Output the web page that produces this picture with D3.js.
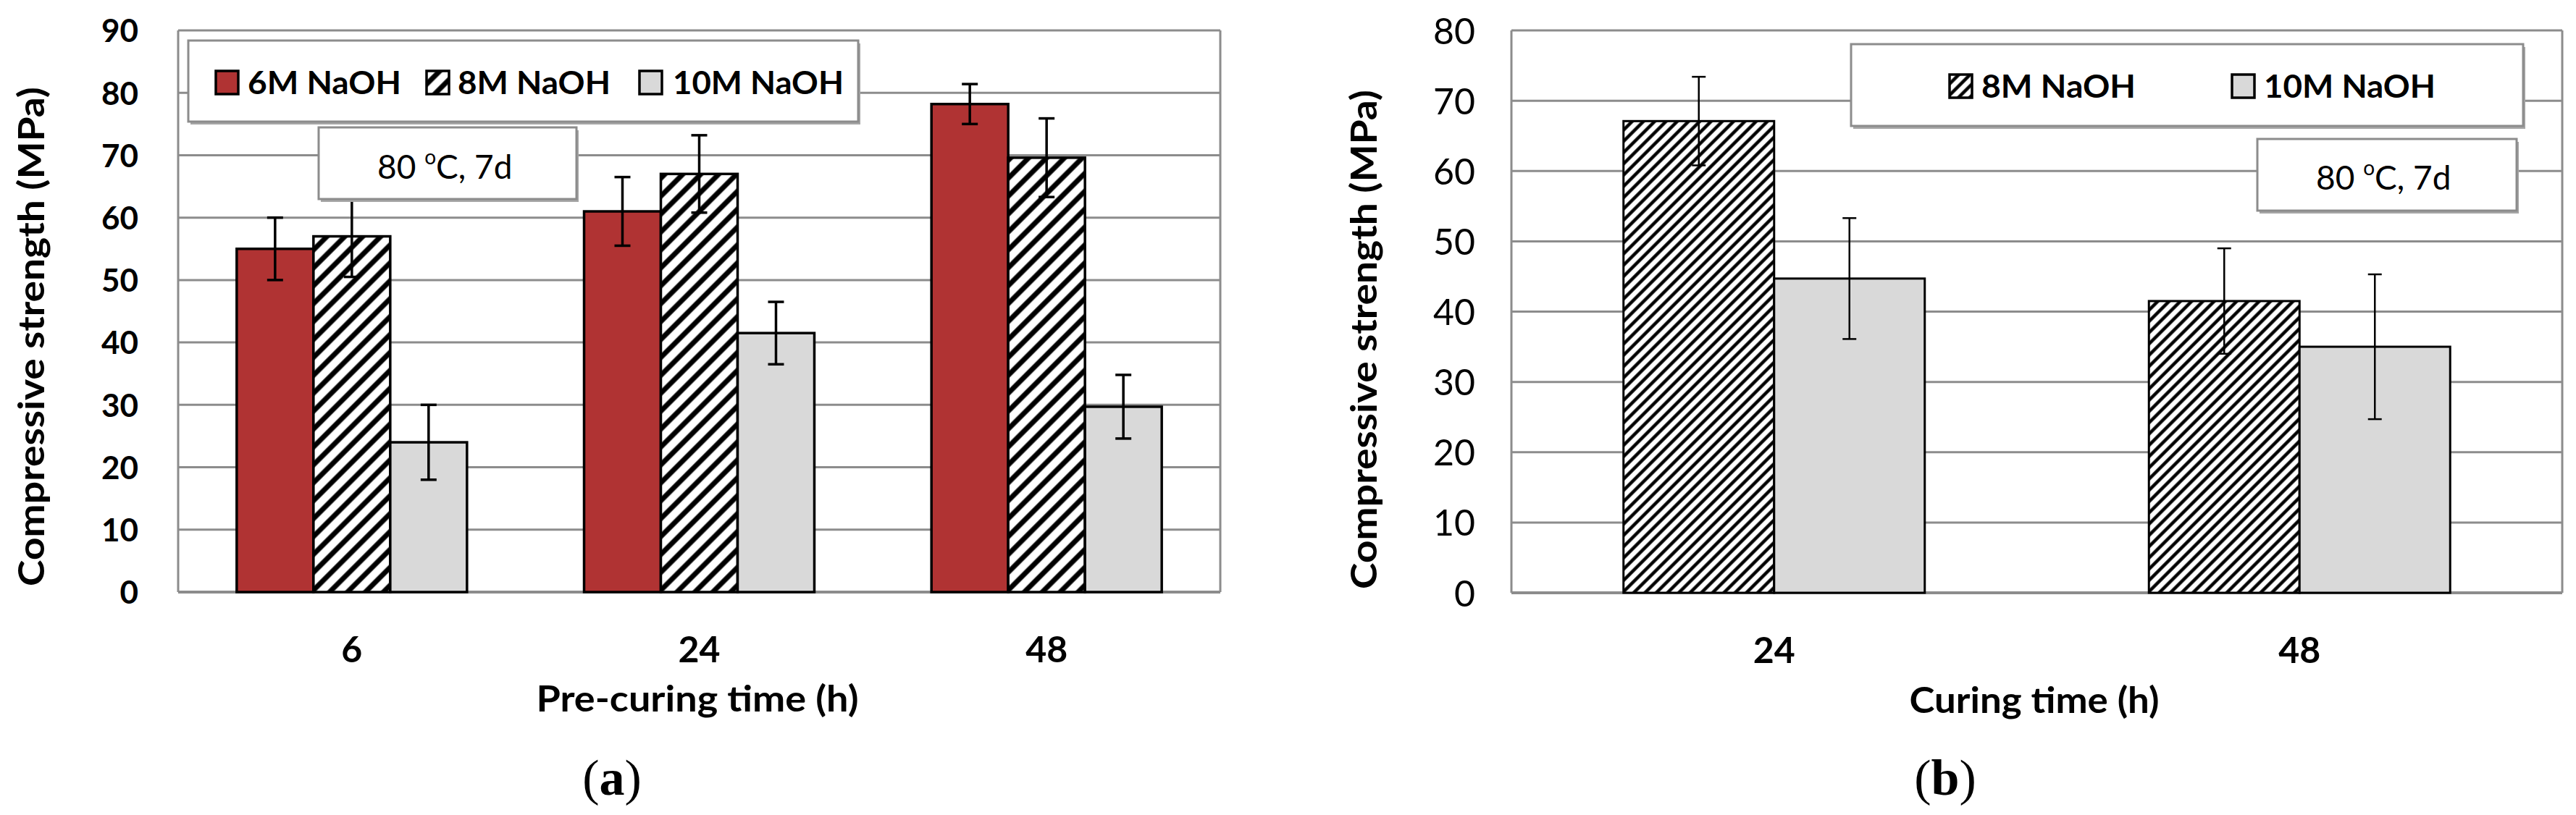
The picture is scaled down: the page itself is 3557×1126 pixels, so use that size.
<!DOCTYPE html>
<html>
<head>
<meta charset="utf-8">
<script src="https://cdn.jsdelivr.net/npm/d3@7"></script>
<style>
body { margin: 0; background: #fff; }
svg text { font-family: Lato, "Open Sans", sans-serif; fill: #000; }
</style>
</head>
<body>
<svg id="chart" width="3557" height="1126"></svg>
<script>
// ---- data, panel (a): pre-curing time
var preCuring = ["6", "24", "48"];
var naoh6 = [55, 61, 78.2];
var naoh6Err = [5, 5.5, 3.2];
var naoh8 = [57, 67, 69.6];
var naoh8Err = [6.5, 6.2, 6.3];
var naoh10 = [24, 41.5, 29.7];
var naoh10Err = [6, 5, 5.1];
var ticksA = [0, 10, 20, 30, 40, 50, 60, 70, 80, 90];

// ---- data, panel (b): curing time
var curing = ["24", "48"];
var curing8 = [67.1, 41.5];
var curing8Err = [6.3, 7.5];
var curing10 = [44.7, 35];
var curing10Err = [8.6, 10.3];
var ticksB = [0, 10, 20, 30, 40, 50, 60, 70, 80];

var svg = d3.select("#chart");
var defs = svg.append("defs");

function hatch(id, gap, w) {
	var p = defs.append("pattern")
		.attr("id", id)
		.attr("patternUnits", "userSpaceOnUse")
		.attr("width", gap)
		.attr("height", gap)
		.attr("patternTransform", "rotate(45)");
	p.append("rect").attr("width", gap).attr("height", gap).attr("fill", "#fff");
	p.append("line")
		.attr("x1", gap / 2).attr("x2", gap / 2)
		.attr("y1", 0).attr("y2", gap)
		.attr("stroke", "#000")
		.attr("stroke-width", w);
}
hatch("hatchA", 17.5, 7);
hatch("hatchB", 11, 4.5);

var RED = "#b03333", GRAY = "#d9d9d9", GRID = "#8c8c8c";

function panel(c) {
	var g = svg.append("g");
	var y = d3.scaleLinear().domain([0, c.yMax]).range([c.bottom, c.top]);
	var x0 = d3.scaleBand().domain(c.cats).range([c.left, c.right]);
	var x1 = d3.scaleBand()
		.domain(c.series.map(function (s) { return s.name; }))
		.range([0, x0.bandwidth()])
		.paddingOuter(c.outer);

	// gridlines
	g.append("g").selectAll("line")
		.data(c.ticks)
		.join("line")
		.attr("x1", c.left).attr("x2", c.right)
		.attr("y1", function (d) { return y(d); })
		.attr("y2", function (d) { return y(d); })
		.attr("stroke", GRID)
		.attr("stroke-width", function (d) { return d === 0 ? 4 : 3; });

	// frame sides
	g.append("g").selectAll("line")
		.data([c.left, c.right])
		.join("line")
		.attr("x1", function (d) { return d; })
		.attr("x2", function (d) { return d; })
		.attr("y1", y(c.yMax)).attr("y2", y(0))
		.attr("stroke", GRID)
		.attr("stroke-width", 3);

	// y tick labels
	var ya = g.append("g")
		.attr("transform", "translate(" + c.left + ",0)")
		.call(d3.axisLeft(y).tickValues(c.ticks).tickSize(0).tickPadding(c.yPad));
	ya.select(".domain").remove();
	ya.selectAll("text")
		.attr("font-size", c.yFont)
		.attr("font-weight", c.yWeight)
		.attr("font-family", "Lato, sans-serif")
		.attr("dy", "0.36em");

	// x tick labels
	var xa = g.append("g")
		.attr("transform", "translate(0," + c.bottom + ")")
		.call(d3.axisBottom(x0).tickSize(0).tickPadding(0));
	xa.select(".domain").remove();
	xa.selectAll("text")
		.attr("font-size", 50)
		.attr("font-weight", 700)
		.attr("font-family", "Lato, sans-serif")
		.attr("y", c.xBase - c.bottom)
		.attr("dy", 0);

	// bars
	var groups = g.append("g").selectAll("g")
		.data(c.cats)
		.join("g")
		.attr("transform", function (d) { return "translate(" + x0(d) + ",0)"; });

	var cells = function (d, i) {
		return c.series.map(function (s) {
			return { s: s, v: s.values[i], e: s.errors[i] };
		});
	};

	groups.selectAll("rect")
		.data(cells)
		.join("rect")
		.attr("x", function (d) { return x1(d.s.name); })
		.attr("y", function (d) { return y(d.v); })
		.attr("width", x1.bandwidth())
		.attr("height", function (d) { return y(0) - y(d.v); })
		.attr("fill", function (d) { return d.s.fill; })
		.attr("stroke", "#000")
		.attr("stroke-width", c.barStroke);

	// error bars
	var err = groups.selectAll("g.err")
		.data(cells)
		.join("g")
		.attr("class", "err")
		.attr("stroke", "#000")
		.attr("stroke-width", c.errStroke);
	err.append("line")
		.attr("x1", function (d) { return x1(d.s.name) + x1.bandwidth() / 2; })
		.attr("x2", function (d) { return x1(d.s.name) + x1.bandwidth() / 2; })
		.attr("y1", function (d) { return y(d.v + d.e); })
		.attr("y2", function (d) { return y(d.v - d.e); });
	[1, -1].forEach(function (sgn) {
		err.append("line")
			.attr("x1", function (d) { return x1(d.s.name) + x1.bandwidth() / 2 - c.cap / 2; })
			.attr("x2", function (d) { return x1(d.s.name) + x1.bandwidth() / 2 + c.cap / 2; })
			.attr("y1", function (d) { return y(d.v + sgn * d.e); })
			.attr("y2", function (d) { return y(d.v + sgn * d.e); });
	});
	return g;
}

function box(b) {
	svg.append("rect")
		.attr("x", b.x + 3).attr("y", b.y + 4)
		.attr("width", b.w).attr("height", b.h)
		.attr("fill", "#a6a6a6");
	svg.append("rect")
		.attr("x", b.x).attr("y", b.y)
		.attr("width", b.w).attr("height", b.h)
		.attr("fill", "#fff")
		.attr("stroke", GRID)
		.attr("stroke-width", 3);
}

function legend(b, items, base, weight) {
	box(b);
	items.forEach(function (it) {
		svg.append("rect")
			.attr("x", it.sx).attr("y", base - 32)
			.attr("width", 31).attr("height", 32)
			.attr("fill", it.fill)
			.attr("stroke", "#000")
			.attr("stroke-width", 3.5);
		svg.append("text")
			.attr("x", it.tx).attr("y", base)
			.attr("font-size", 44)
			.attr("font-weight", weight)
			.attr("textLength", it.tw)
			.attr("lengthAdjust", "spacingAndGlyphs")
			.text(it.name);
	});
}

function note(b, tx, base) {
	box(b);
	var t = svg.append("text")
		.attr("x", tx).attr("y", base)
		.attr("font-size", 46);
	t.append("tspan").text("80 ");
	t.append("tspan").attr("font-size", 28).attr("dy", -20).text("o");
	t.append("tspan").attr("dy", 20).text("C, 7d");
}

function title(x, y, text, len, rot) {
	svg.append("text")
		.attr("transform", "translate(" + x + "," + y + ")" + (rot ? " rotate(-90)" : ""))
		.attr("text-anchor", "middle")
		.attr("font-size", 50)
		.attr("font-weight", 700)
		.attr("textLength", len)
		.attr("lengthAdjust", "spacingAndGlyphs")
		.text(text);
}

function letter(x, y, ch) {
	var t = svg.append("text")
		.attr("x", x).attr("y", y)
		.attr("text-anchor", "middle")
		.attr("font-family", "'Liberation Serif', serif")
		.attr("font-size", 70)
		.style("font-family", "'Liberation Serif', serif");
	t.append("tspan").text("(");
	t.append("tspan").attr("font-weight", 700).text(ch);
	t.append("tspan").text(")");
}

// ---- panel (a)
panel({
	left: 246, right: 1685, top: 42, bottom: 818,
	yMax: 90, ticks: ticksA, cats: preCuring, outer: 0.7627,
	yPad: 55, yFont: 44, yWeight: 700, xBase: 915,
	barStroke: 3.5, errStroke: 3.5, cap: 22,
	series: [
		{ name: "6M NaOH", values: naoh6, errors: naoh6Err, fill: RED },
		{ name: "8M NaOH", values: naoh8, errors: naoh8Err, fill: "url(#hatchA)" },
		{ name: "10M NaOH", values: naoh10, errors: naoh10Err, fill: GRAY }
	]
});
legend({ x: 260, y: 56, w: 925, h: 112 }, [
	{ name: "6M NaOH", fill: RED, sx: 298, tx: 342, tw: 212 },
	{ name: "8M NaOH", fill: "url(#hatchA)", sx: 589, tx: 632, tw: 211 },
	{ name: "10M NaOH", fill: GRAY, sx: 883, tx: 929, tw: 236 }
], 130, 700);
note({ x: 440, y: 176, w: 356, h: 99 }, 521, 247);
title(61, 465, "Compressive  strength (MPa)", 690, true);
title(963, 983, "Pre-curing time (h)", 445, false);
letter(845, 1098, "a");

// ---- panel (b)
panel({
	left: 2087, right: 3538, top: 42, bottom: 819,
	yMax: 80, ticks: ticksB, cats: curing, outer: 0.744,
	yPad: 50, yFont: 50, yWeight: 400, xBase: 916,
	barStroke: 3, errStroke: 2.5, cap: 19,
	series: [
		{ name: "8M NaOH", values: curing8, errors: curing8Err, fill: "url(#hatchB)" },
		{ name: "10M NaOH", values: curing10, errors: curing10Err, fill: GRAY }
	]
});
legend({ x: 2556, y: 61, w: 928, h: 113 }, [
	{ name: "8M NaOH", fill: "url(#hatchB)", sx: 2692, tx: 2736, tw: 213 },
	{ name: "10M NaOH", fill: GRAY, sx: 3082, tx: 3126, tw: 237 }
], 135, 700);
note({ x: 3117, y: 192, w: 358, h: 99 }, 3198, 262);
title(1901, 469, "Compressive  strength (MPa)", 690, true);
title(2809, 985, "Curing time (h)", 345, false);
letter(2686, 1098, "b");
</script>
</body>
</html>
